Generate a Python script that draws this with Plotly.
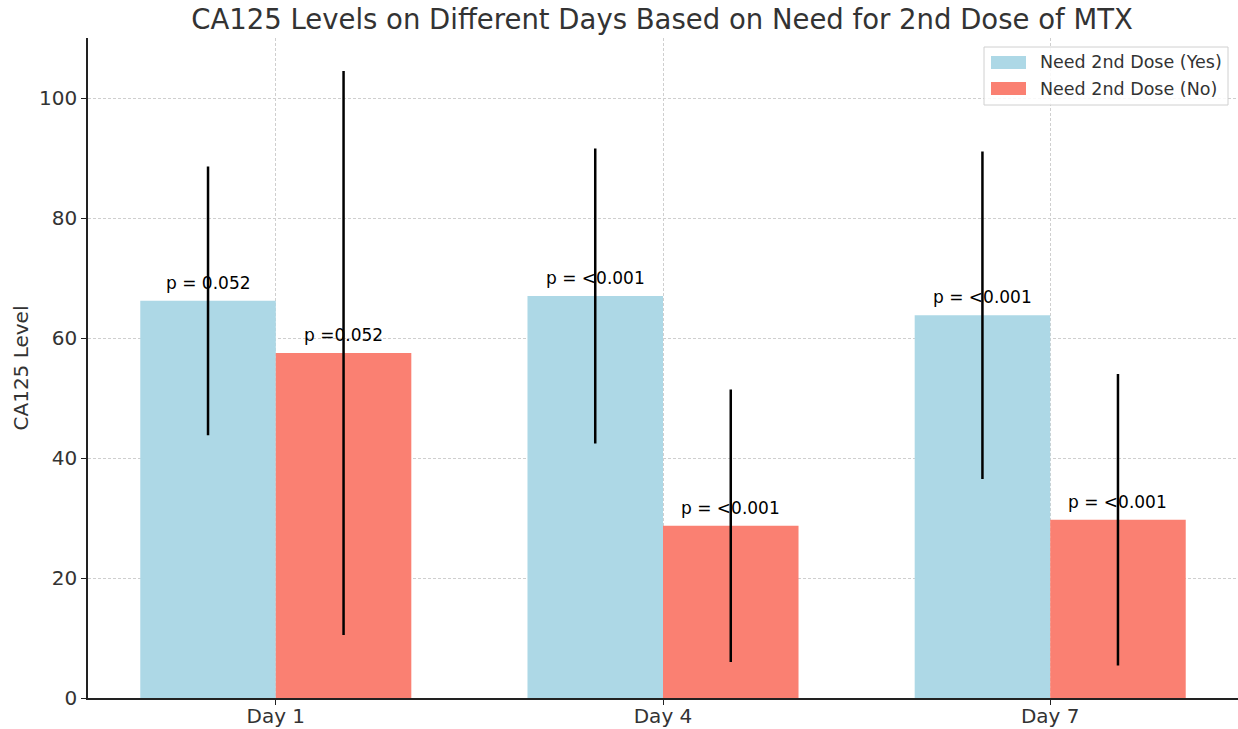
import plotly.graph_objects as go

days = ["Day 1", "Day 4", "Day 7"]
yes_vals = [66.2, 67.0, 63.8]
yes_err = [22.4, 24.6, 27.3]
no_vals = [57.5, 28.7, 29.7]
no_err = [47.0, 22.7, 24.3]
yes_p = ["p = 0.052", "p = <0.001", "p = <0.001"]
no_p = ["p =0.052", "p = <0.001", "p = <0.001"]
series_names = ["Need 2nd Dose (Yes)", "Need 2nd Dose (No)"]
colors = ["#add8e6", "#fa8072"]

xs = list(range(len(days)))
w = 0.35
font = "DejaVu Sans"

fig = go.Figure()
fig.add_trace(go.Bar(
    x=xs, y=yes_vals, width=w, offset=-w, name=series_names[0],
    marker=dict(color=colors[0], line=dict(width=0)),
    error_y=dict(type="data", array=yes_err, color="black", thickness=2.5, width=0),
))
fig.add_trace(go.Bar(
    x=xs, y=no_vals, width=w, offset=0, name=series_names[1],
    marker=dict(color=colors[1], line=dict(width=0)),
    error_y=dict(type="data", array=no_err, color="black", thickness=2.5, width=0),
))

for i in xs:
    fig.add_annotation(x=i - w / 2, y=yes_vals[i] + 1, text=yes_p[i], showarrow=False,
                       yanchor="bottom", font=dict(family=font, size=17, color="black"))
    fig.add_annotation(x=i + w / 2, y=no_vals[i] + 1, text=no_p[i], showarrow=False,
                       yanchor="bottom", font=dict(family=font, size=17, color="black"))

# custom legend (matplotlib-like wide swatches)
# plot area: px x 88..1238, y 38..698 in page pixels
def px_x(px):
    return (px - 88) / 1150.0

def px_y(py):
    return (698 - py) / 660.0

fig.add_shape(type="rect", xref="paper", yref="paper",
              x0=px_x(984), x1=px_x(1228), y0=px_y(105), y1=px_y(47),
              line=dict(color="#d0d0d0", width=1), fillcolor="rgba(255,255,255,0.85)", layer="above")
for k, (nm, c) in enumerate(zip(series_names, colors)):
    top = 56 + k * 26
    fig.add_shape(type="rect", xref="paper", yref="paper",
                  x0=px_x(991), x1=px_x(1026), y0=px_y(top + 13), y1=px_y(top),
                  line=dict(width=0), fillcolor=c, layer="above")
    fig.add_annotation(xref="paper", yref="paper", x=px_x(1038), y=px_y(top + 6.5),
                       text=nm, showarrow=False, xanchor="left", yanchor="middle",
                       font=dict(family=font, size=17.5, color="#333333"))

fig.update_layout(
    width=1238, height=729,
    margin=dict(l=88, r=0, t=38, b=31, autoexpand=False),
    paper_bgcolor="white", plot_bgcolor="white",
    barmode="overlay",
    title=dict(text="CA125 Levels on Different Days Based on Need for 2nd Dose of MTX",
               x=662 / 1238, xanchor="center", y=1 - 19 / 729, yanchor="middle",
               font=dict(family=font, size=27.5, color="#333333")),
    font=dict(family=font, size=20, color="#333333"),
    showlegend=False,
)
fig.update_xaxes(range=[-0.485, 2.485], tickmode="array", tickvals=xs, ticktext=days,
                 showline=True, linecolor="#222222", linewidth=1.5,
                 ticks="outside", ticklen=5, tickcolor="#222222",
                 ticklabelstandoff=-6,
                 showgrid=True, gridcolor="#cfcfcf", griddash="3px,2px", gridwidth=1,
                 zeroline=False, tickfont=dict(size=20))
fig.update_yaxes(range=[0, 110], tickvals=[0, 20, 40, 60, 80, 100],
                 showline=True, linecolor="#222222", linewidth=1.5,
                 ticks="outside", ticklen=5, tickcolor="#222222",
                 showgrid=True, gridcolor="#cfcfcf", griddash="3px,2px", gridwidth=1,
                 zeroline=False, tickfont=dict(size=20),
                 title=dict(text="CA125 Level", font=dict(size=20), standoff=5))

fig.write_html("out.html", config={"displayModeBar": False},
               post_script="document.body.style.margin='0px';")
